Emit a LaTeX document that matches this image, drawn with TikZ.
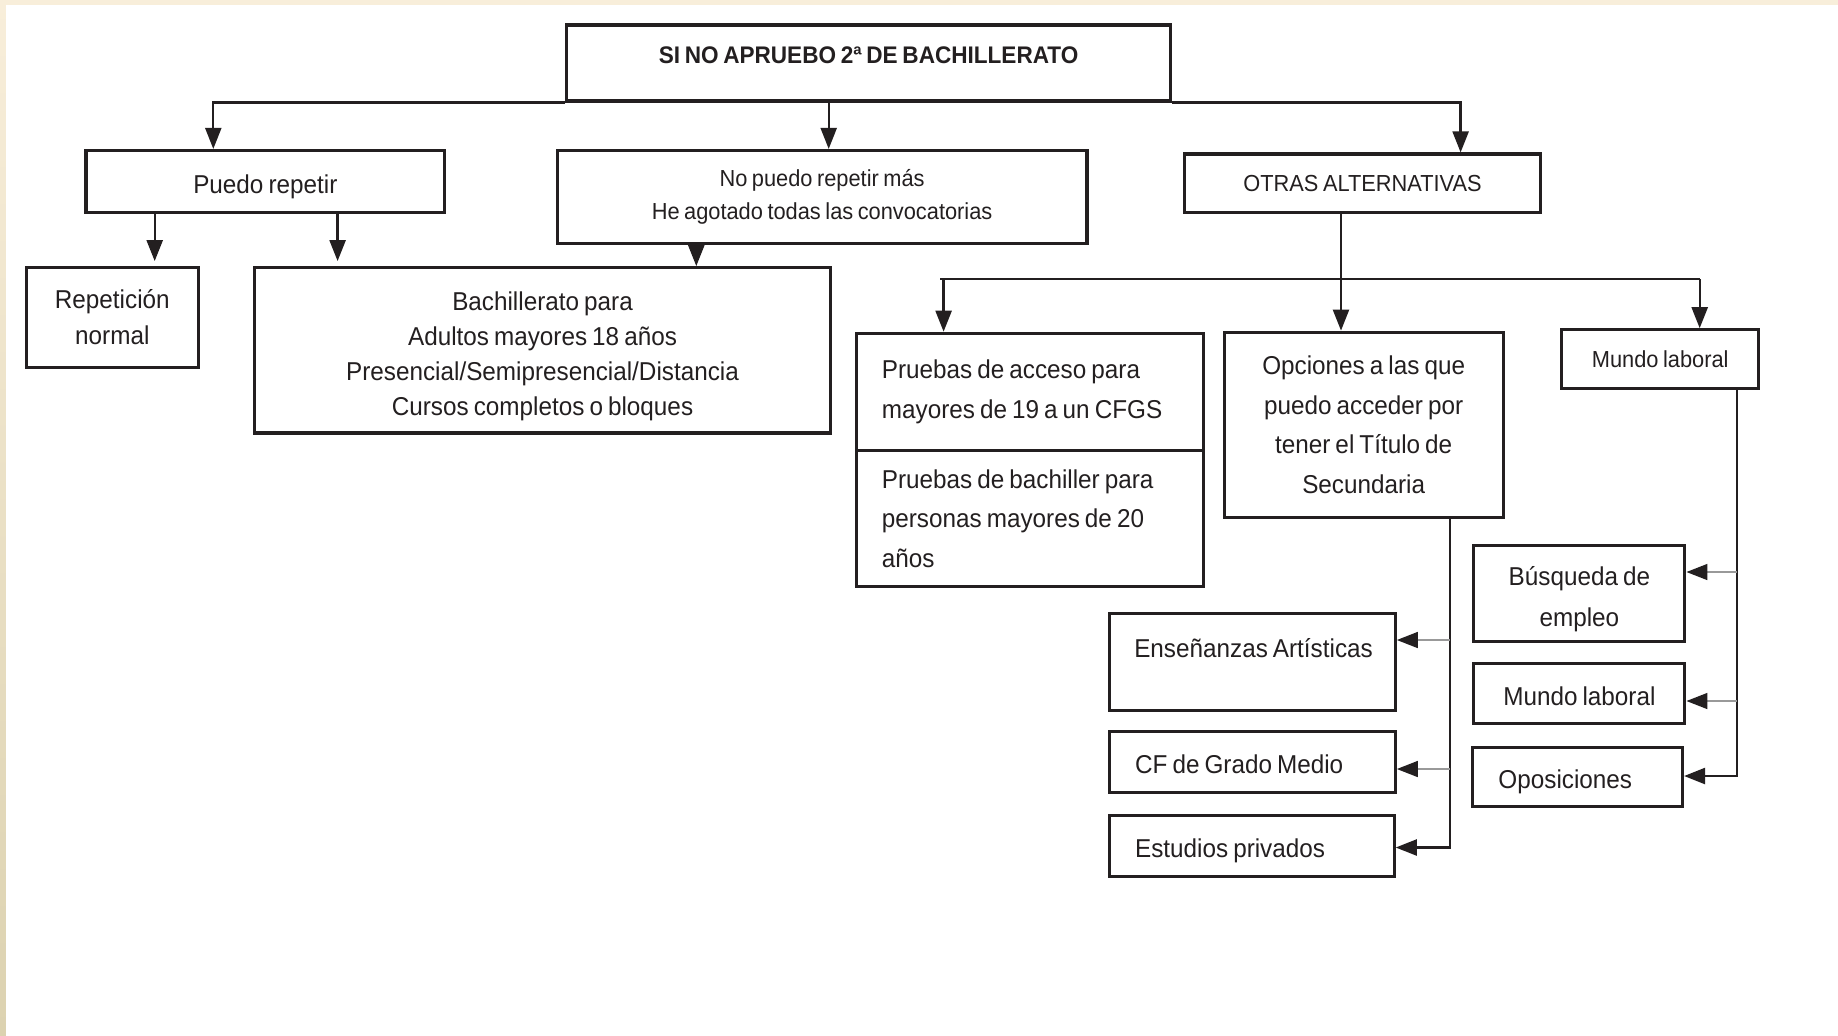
\documentclass[tikz,border=0pt]{standalone}
\usepackage{fontspec}
\setmainfont{Liberation Sans}[FakeStretch=0.94,WordSpace=0.75]
\usetikzlibrary{arrows.meta}

\definecolor{tinta}{HTML}{231F20}
\definecolor{crema}{HTML}{F8EEDA}
\definecolor{cremaoscura}{HTML}{DCD2B0}

\newcommand{\alto}{\rule{0pt}{0.31cm}}

\begin{document}
\begin{tikzpicture}[x=1cm,y=-1cm,
		caja/.style={draw=tinta, line width=0.9pt, rectangle, anchor=north west, inner sep=0pt, align=center, text=tinta, font=\fontsize{7.35}{10}\selectfont},
		cajaizq/.style={caja, align=flush left, inner xsep=0.258cm},
		unalinea/.style={text height=0.26cm, text depth=0.03cm},
		flecha/.style={draw=tinta, line width=0.65pt, -{Triangle[length=0.21cm,width=0.16cm]}},
		rama/.style={draw=black!40, line width=0.45pt, -{Triangle[length=0.21cm,width=0.16cm,color=tinta]}},
		linea/.style={draw=tinta, line width=0.65pt}]
		
		%page
		\useasboundingbox (0,0) rectangle (18.38,10.35);
		\fill[white] (0,0) rectangle (18.38,10.35);
		\fill[crema] (0,0) rectangle (18.38,0.05);
		\shade[top color=crema, bottom color=cremaoscura] (0,0) rectangle (0.06,10.35);
		
		%title
		\node[caja, minimum width=6.04cm, minimum height=0.76cm, text height=0.17cm, text depth=0.156cm, font=\bfseries\fontsize{6.83}{8}\selectfont] (titulo) at (5.65,0.234) {SI NO APRUEBO 2ª DE BACHILLERATO};
		
		%second row
		\node[caja, unalinea, minimum width=3.587cm, minimum height=0.621cm] (puedo) at (0.844,1.489) {Puedo repetir};
		\node[caja, minimum width=5.298cm, minimum height=0.926cm, font=\fontsize{6.6}{9.3}\selectfont] (nopuedo) at (5.556,1.489) {No puedo repetir más\\He agotado todas las convocatorias};
		\node[caja, minimum width=3.563cm, minimum height=0.586cm, font=\fontsize{6.6}{9}\selectfont] (otras) at (11.828,1.524) {OTRAS ALTERNATIVAS};
		
		%third row
		\node[caja, minimum width=1.723cm, minimum height=0.996cm, font=\fontsize{7.35}{10.3}\selectfont] (repeticion) at (0.246,2.661) {Repetición\\normal};
		\node[caja, minimum width=5.755cm, minimum height=1.653cm] (bachillerato) at (2.532,2.661) {\alto Bachillerato para\\Adultos mayores 18 años\\Presencial/Semipresencial/Distancia\\Cursos completos o bloques};
		\node[cajaizq, text width=2.954cm, minimum height=1.173cm, font=\fontsize{7.35}{11.2}\selectfont] (pruebasA) at (8.545,3.317) {Pruebas de acceso para\\mayores de 19 a un CFGS};
		\node[cajaizq, text width=2.954cm, minimum height=1.359cm, font=\fontsize{7.35}{11.2}\selectfont] (pruebasB) at (8.545,4.49) {Pruebas de bachiller para\\personas mayores de 20\\años};
		\node[caja, minimum width=2.79cm, minimum height=1.852cm, font=\fontsize{7.35}{11.3}\selectfont] (opciones) at (12.226,3.306) {Opciones a las que\\puedo acceder por\\tener el Título de\\Secundaria};
		\node[caja, minimum width=1.969cm, minimum height=0.586cm, font=\fontsize{6.6}{9}\selectfont] (mundoA) at (15.602,3.282) {Mundo laboral};
		
		%options after secundaria
		\node[cajaizq, inner xsep=0.25cm, text width=2.36cm, minimum height=0.973cm, text height=0.19cm, text depth=0.278cm] (ensenanzas) at (11.077,6.119) {\mbox{Enseñanzas Artísticas}};
		\node[cajaizq, unalinea, text width=2.344cm, minimum height=0.61cm] (cf) at (11.077,7.303) {CF de Grado Medio};
		\node[cajaizq, unalinea, text width=2.333cm, minimum height=0.61cm] (estudios) at (11.077,8.135) {Estudios privados};
		
		%work options
		\node[caja, minimum width=2.11cm, minimum height=0.961cm, font=\fontsize{7.35}{11.7}\selectfont] (busqueda) at (14.723,5.439) {\alto Búsqueda de\\empleo};
		\node[caja, unalinea, minimum width=2.11cm, minimum height=0.598cm] (mundoB) at (14.723,6.623) {Mundo laboral};
		\node[cajaizq, unalinea, text width=1.582cm, minimum height=0.598cm] (oposiciones) at (14.711,7.455) {Oposiciones};
		
		%arrows from title
		\draw[flecha] (titulo.south west) -| (2.133,0 |- puedo.north);
		\draw[flecha] (8.287,0 |- titulo.south) -- (8.287,0 |- nopuedo.north);
		\draw[flecha] (titulo.south east) -| (14.606,0 |- otras.north);
		
		%arrows from second row
		\draw[flecha, shorten >=0.05cm] (1.547,0 |- puedo.south) -- (1.547,0 |- repeticion.north);
		\draw[flecha, shorten >=0.05cm] (3.376,0 |- puedo.south) -- (3.376,0 |- bachillerato.north);
		\draw[flecha] (6.963,0 |- nopuedo.south) -- (6.963,0 |- bachillerato.north);
		\draw[flecha] (13.41,0 |- otras.south) -- (13.41,0 |- opciones.north);
		
		\coordinate (barraI) at (9.401,2.79);
		\coordinate (barraD) at (16.997,2.79);
		\draw[linea] (barraI) -- (barraD);
		\draw[flecha] ([xshift=0.035cm]barraI) -- ([xshift=0.035cm]barraI |- pruebasA.north);
		\draw[flecha] (barraD) -- (barraD |- mundoA.north);
		
		%secundaria branch
		\coordinate (ejeS) at (14.5,0);
		\draw[flecha] (ejeS |- opciones.south) |- (estudios.east |- 0,8.475);
		\draw[rama] (ejeS |- 0,6.4) -- (ensenanzas.east |- 0,6.4);
		\draw[rama] (ejeS |- 0,7.69) -- (cf.east |- 0,7.69);
		
		%work branch
		\coordinate (ejeM) at (17.372,0);
		\draw[flecha] (ejeM |- mundoA.south) |- (oposiciones.east |- 0,7.76);
		\draw[rama] (ejeM |- 0,5.72) -- (busqueda.east |- 0,5.72);
		\draw[rama] (ejeM |- 0,7.01) -- (mundoB.east |- 0,7.01);
		
\end{tikzpicture}
\end{document}
